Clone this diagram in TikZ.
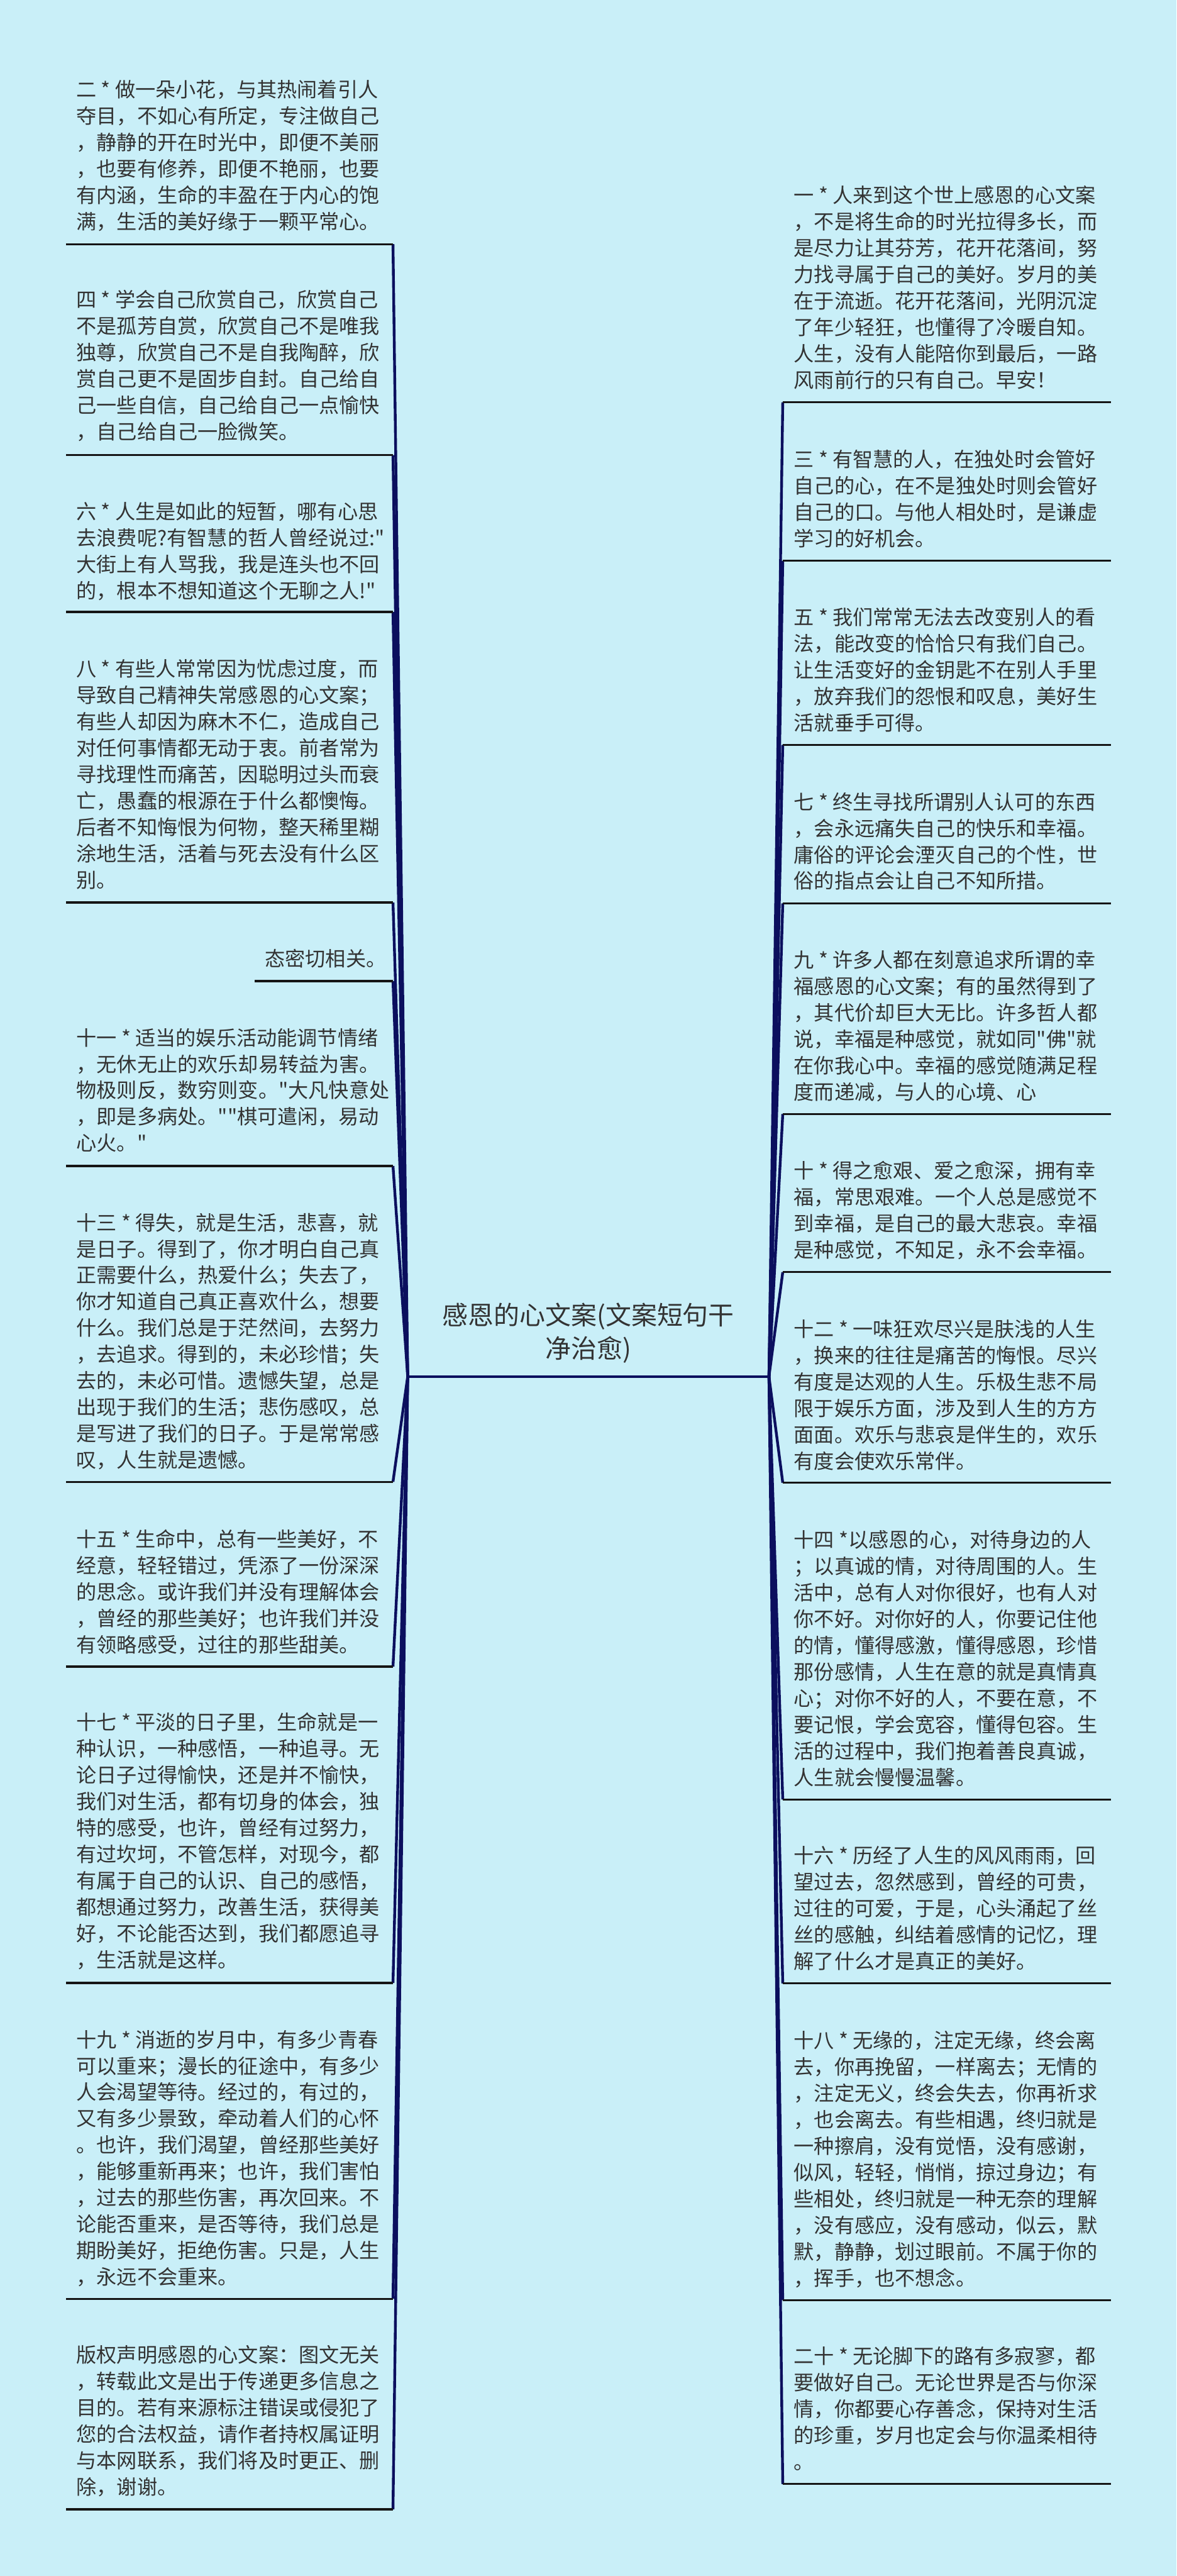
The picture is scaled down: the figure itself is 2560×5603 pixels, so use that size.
\documentclass[tikz,border=0pt]{standalone}
\usepackage{fontspec}
\newfontfamily\cjk{Noto Sans CJK SC}
\definecolor{bg}{HTML}{C9EFF8}
\definecolor{navy}{HTML}{0B0F5E}
\definecolor{txt}{HTML}{333333}
\definecolor{ulc}{HTML}{151515}
\begin{document}
\begin{tikzpicture}[x=0.5pt,y=-0.5pt,
  leaf/.style={anchor=north west,inner sep=0pt,align=left,text=txt,font=\cjk\fontsize{22pt}{28.7pt}\selectfont},
  ctr/.style={anchor=north,inner sep=0pt,align=center,text=txt,font=\cjk\fontsize{28pt}{36pt}\selectfont},
  conn/.style={draw=navy,line width=3pt},
  ul/.style={draw=ulc,line width=2.2pt}]
\fill[bg] (0,0) rectangle (2560,5603);
\useasboundingbox (0,0) rectangle (2560,5603);

% centre
\node[ctr] (C) at (1280,2834) {感恩的心文案(文案短句干\\净治愈)};
\coordinate (cL) at (887,2994);
\coordinate (cR) at (1673,2994);

% underline end points
\foreach \n/\yy in {L2/531,L4/990,L6/1331,L8/1963,L11/2536,L13/3223,L15/3625,L17/4313,L19/5000,L21/5458}{
  \coordinate (\n a) at (144,\yy);
  \coordinate (\n b) at (855,\yy);
}
\coordinate (L10a) at (554,2134);
\coordinate (L10b) at (855,2134);
\foreach \n/\yy in {R1/875,R3/1220,R5/1620,R7/1965,R9/2423,R10/2767,R12/3225,R14/3914,R16/4314,R18/5003,R20/5403}{
  \coordinate (\n a) at (1703,\yy);
  \coordinate (\n b) at (2417,\yy);
}

% connectors
\foreach \n in {L2,L4,L6,L8,L10,L11,L13,L15,L17,L19,L21}{
  \draw[conn] (cL) -- (\n b);
}
\foreach \n in {R1,R3,R5,R7,R9,R10,R12,R14,R16,R18,R20}{
  \draw[conn] (cR) -- (\n a);
}
\draw[conn] (cL) -- (cR);

% underlines
\foreach \n in {L2,L4,L6,L8,L10,L11,L13,L15,L17,L19,L21,R1,R3,R5,R7,R9,R10,R12,R14,R16,R18,R20}{
  \draw[ul] (\n a) -- (\n b);
}

% left leaves
\node[leaf] (L2) at (166,174) {二 * 做一朵小花，与其热闹着引人\\夺目，不如心有所定，专注做自己\\，静静的开在时光中，即便不美丽\\，也要有修养，即便不艳丽，也要\\有内涵，生命的丰盈在于内心的饱\\满，生活的美好缘于一颗平常心。};
\node[leaf] (L4) at (166,631) {四 * 学会自己欣赏自己，欣赏自己\\不是孤芳自赏，欣赏自己不是唯我\\独尊，欣赏自己不是自我陶醉，欣\\赏自己更不是固步自封。自己给自\\己一些自信，自己给自己一点愉快\\，自己给自己一脸微笑。};
\node[leaf] (L6) at (166,1092) {六 * 人生是如此的短暂，哪有心思\\去浪费呢?有智慧的哲人曾经说过:"\\大街上有人骂我，我是连头也不回\\的，根本不想知道这个无聊之人!"};
\node[leaf] (L8) at (166,1434) {八 * 有些人常常因为忧虑过度，而\\导致自己精神失常感恩的心文案；\\有些人却因为麻木不仁，造成自己\\对任何事情都无动于衷。前者常为\\寻找理性而痛苦，因聪明过头而衰\\亡，愚蠢的根源在于什么都懊悔。\\后者不知悔恨为何物，整天稀里糊\\涂地生活，活着与死去没有什么区\\别。};
\node[leaf] (L10) at (576,2064) {态密切相关。};
\node[leaf] (L11) at (166,2236) {十一 * 适当的娱乐活动能调节情绪\\，无休无止的欢乐却易转益为害。\\物极则反，数穷则变。"大凡快意处\\，即是多病处。""棋可遣闲，易动\\心火。"};
\node[leaf] (L13) at (166,2638) {十三 * 得失，就是生活，悲喜，就\\是日子。得到了，你才明白自己真\\正需要什么，热爱什么；失去了，\\你才知道自己真正喜欢什么，想要\\什么。我们总是于茫然间，去努力\\，去追求。得到的，未必珍惜；失\\去的，未必可惜。遗憾失望，总是\\出现于我们的生活；悲伤感叹，总\\是写进了我们的日子。于是常常感\\叹，人生就是遗憾。};
\node[leaf] (L15) at (166,3326) {十五 * 生命中，总有一些美好，不\\经意，轻轻错过，凭添了一份深深\\的思念。或许我们并没有理解体会\\，曾经的那些美好；也许我们并没\\有领略感受，过往的那些甜美。};
\node[leaf] (L17) at (166,3725) {十七 * 平淡的日子里，生命就是一\\种认识，一种感悟，一种追寻。无\\论日子过得愉快，还是并不愉快，\\我们对生活，都有切身的体会，独\\特的感受，也许，曾经有过努力，\\有过坎坷，不管怎样，对现今，都\\有属于自己的认识、自己的感悟，\\都想通过努力，改善生活，获得美\\好，不论能否达到，我们都愿追寻\\，生活就是这样。};
\node[leaf] (L19) at (166,4415) {十九 * 消逝的岁月中，有多少青春\\可以重来；漫长的征途中，有多少\\人会渴望等待。经过的，有过的，\\又有多少景致，牵动着人们的心怀\\。也许，我们渴望，曾经那些美好\\，能够重新再来；也许，我们害怕\\，过去的那些伤害，再次回来。不\\论能否重来，是否等待，我们总是\\期盼美好，拒绝伤害。只是，人生\\，永远不会重来。};
\node[leaf] (L21) at (166,5101) {版权声明感恩的心文案：图文无关\\，转载此文是出于传递更多信息之\\目的。若有来源标注错误或侵犯了\\您的合法权益，请作者持权属证明\\与本网联系，我们将及时更正、删\\除，谢谢。};

% right leaves
\node[leaf] (R1) at (1727,404) {一 * 人来到这个世上感恩的心文案\\，不是将生命的时光拉得多长，而\\是尽力让其芬芳，花开花落间，努\\力找寻属于自己的美好。岁月的美\\在于流逝。花开花落间，光阴沉淀\\了年少轻狂，也懂得了冷暖自知。\\人生，没有人能陪你到最后，一路\\风雨前行的只有自己。早安！};
\node[leaf] (R3) at (1727,978) {三 * 有智慧的人，在独处时会管好\\自己的心，在不是独处时则会管好\\自己的口。与他人相处时，是谦虚\\学习的好机会。};
\node[leaf] (R5) at (1727,1321) {五 * 我们常常无法去改变别人的看\\法，能改变的恰恰只有我们自己。\\让生活变好的金钥匙不在别人手里\\，放弃我们的怨恨和叹息，美好生\\活就垂手可得。};
\node[leaf] (R7) at (1727,1723) {七 * 终生寻找所谓别人认可的东西\\，会永远痛失自己的快乐和幸福。\\庸俗的评论会湮灭自己的个性，世\\俗的指点会让自己不知所措。};
\node[leaf] (R9) at (1727,2067) {九 * 许多人都在刻意追求所谓的幸\\福感恩的心文案；有的虽然得到了\\，其代价却巨大无比。许多哲人都\\说，幸福是种感觉，就如同"佛"就\\在你我心中。幸福的感觉随满足程\\度而递减，与人的心境、心};
\node[leaf] (R10) at (1727,2525) {十 * 得之愈艰、爱之愈深，拥有幸\\福，常思艰难。一个人总是感觉不\\到幸福，是自己的最大悲哀。幸福\\是种感觉，不知足，永不会幸福。};
\node[leaf] (R12) at (1727,2870) {十二 * 一味狂欢尽兴是肤浅的人生\\，换来的往往是痛苦的悔恨。尽兴\\有度是达观的人生。乐极生悲不局\\限于娱乐方面，涉及到人生的方方\\面面。欢乐与悲哀是伴生的，欢乐\\有度会使欢乐常伴。};
\node[leaf] (R14) at (1727,3328) {十四 *以感恩的心，对待身边的人\\；以真诚的情，对待周围的人。生\\活中，总有人对你很好，也有人对\\你不好。对你好的人，你要记住他\\的情，懂得感激，懂得感恩，珍惜\\那份感情，人生在意的就是真情真\\心；对你不好的人，不要在意，不\\要记恨，学会宽容，懂得包容。生\\活的过程中，我们抱着善良真诚，\\人生就会慢慢温馨。};
\node[leaf] (R16) at (1727,4015) {十六 * 历经了人生的风风雨雨，回\\望过去，忽然感到，曾经的可贵，\\过往的可爱，于是，心头涌起了丝\\丝的感触，纠结着感情的记忆，理\\解了什么才是真正的美好。};
\node[leaf] (R18) at (1727,4417) {十八 * 无缘的，注定无缘，终会离\\去，你再挽留，一样离去；无情的\\，注定无义，终会失去，你再祈求\\，也会离去。有些相遇，终归就是\\一种擦肩，没有觉悟，没有感谢，\\似风，轻轻，悄悄，掠过身边；有\\些相处，终归就是一种无奈的理解\\，没有感应，没有感动，似云，默\\默，静静，划过眼前。不属于你的\\，挥手，也不想念。};
\node[leaf] (R20) at (1727,5103) {二十 * 无论脚下的路有多寂寥，都\\要做好自己。无论世界是否与你深\\情，你都要心存善念，保持对生活\\的珍重，岁月也定会与你温柔相待\\。};
\end{tikzpicture}
\end{document}
